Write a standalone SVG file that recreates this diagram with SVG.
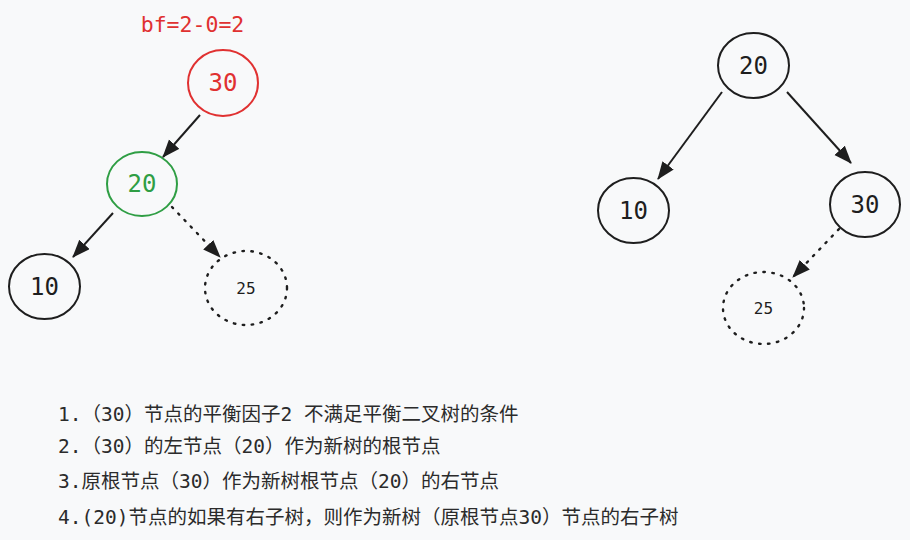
<svg xmlns="http://www.w3.org/2000/svg" width="910" height="540" viewBox="0 0 910 540">
<style>
.bg{fill:#f8f9fa}
.n{fill:none;stroke:#1e1e1e;stroke-width:2}
.d{fill:none;stroke:#1e1e1e;stroke-width:2.4;stroke-dasharray:1.5 7.5;stroke-linecap:round}
.t{font-family:"DejaVu Sans Mono","Liberation Mono",monospace;font-size:24px;fill:#1e1e1e;text-anchor:middle;dominant-baseline:central}
.s{font-size:16px}
.e{stroke:#1e1e1e;stroke-width:2;fill:none}
.ed{stroke:#1e1e1e;stroke-width:2.4;fill:none;stroke-dasharray:1.5 7.5;stroke-linecap:round}
.c{font-family:"DejaVu Sans Mono","Noto Sans CJK SC",monospace;font-size:19.5px;fill:#2b2b2b}
</style>
<defs>
<marker id="ah" markerUnits="userSpaceOnUse" markerWidth="20" markerHeight="16" refX="17" refY="7" orient="auto">
<path d="M0,0 L18,7 L0,14 Z" fill="#1e1e1e"/>
</marker>
</defs>
<rect class="bg" x="0" y="0" width="910" height="540"/>
<text x="192.5" y="24" class="t" style="font-size:21.5px;fill:#e03131">bf=2-0=2</text>
<g id="L30"><ellipse cx="223" cy="83" rx="35" ry="33" class="n" style="stroke:#e03131"/><text x="223" y="83" class="t" style="fill:#e03131">30</text></g>
<g id="L20"><ellipse cx="142" cy="184" rx="35" ry="32" class="n" style="stroke:#2f9e44"/><text x="142" y="184" class="t" style="fill:#2f9e44">20</text></g>
<g id="L10"><ellipse cx="44.5" cy="286.5" rx="35.5" ry="32.5" class="n"/><text x="44.5" y="286.5" class="t">10</text></g>
<g id="L25"><ellipse cx="246" cy="288" rx="41" ry="37" class="d"/><text x="246" y="288" class="t s">25</text></g>
<g id="R20"><ellipse cx="753.5" cy="65.5" rx="35.5" ry="32.5" class="n"/><text x="753.5" y="65.5" class="t">20</text></g>
<g id="R10"><ellipse cx="633.5" cy="210.5" rx="35.5" ry="32.5" class="n"/><text x="633.5" y="210.5" class="t">10</text></g>
<g id="R30"><ellipse cx="865" cy="204.5" rx="35" ry="32.5" class="n"/><text x="865" y="204.5" class="t">30</text></g>
<g id="R25"><ellipse cx="763.5" cy="308" rx="40.5" ry="36" class="d"/><text x="763.5" y="308" class="t s">25</text></g>
<g id="edges">
<line x1="200" y1="115" x2="163" y2="157" class="e" marker-end="url(#ah)"/>
<line x1="113" y1="213" x2="73" y2="257" class="e" marker-end="url(#ah)"/>
<line x1="172" y1="207" x2="220" y2="257" class="ed" marker-end="url(#ah)"/>
<line x1="722" y1="92" x2="658" y2="179" class="e" marker-end="url(#ah)"/>
<line x1="787" y1="92" x2="851" y2="163" class="e" marker-end="url(#ah)"/>
<line x1="839" y1="229" x2="793" y2="277" class="ed" marker-end="url(#ah)"/>
</g>
<g id="notes">
<text x="58" y="421" class="c">1.（30）节点的平衡因子2 不满足平衡二叉树的条件</text>
<text x="58" y="453" class="c">2.（30）的左节点（20）作为新树的根节点</text>
<text x="58" y="488" class="c">3.原根节点（30）作为新树根节点（20）的右节点</text>
<text x="58" y="524" class="c">4.(20)节点的如果有右子树，则作为新树（原根节点30）节点的右子树</text>
</g>
</svg>
